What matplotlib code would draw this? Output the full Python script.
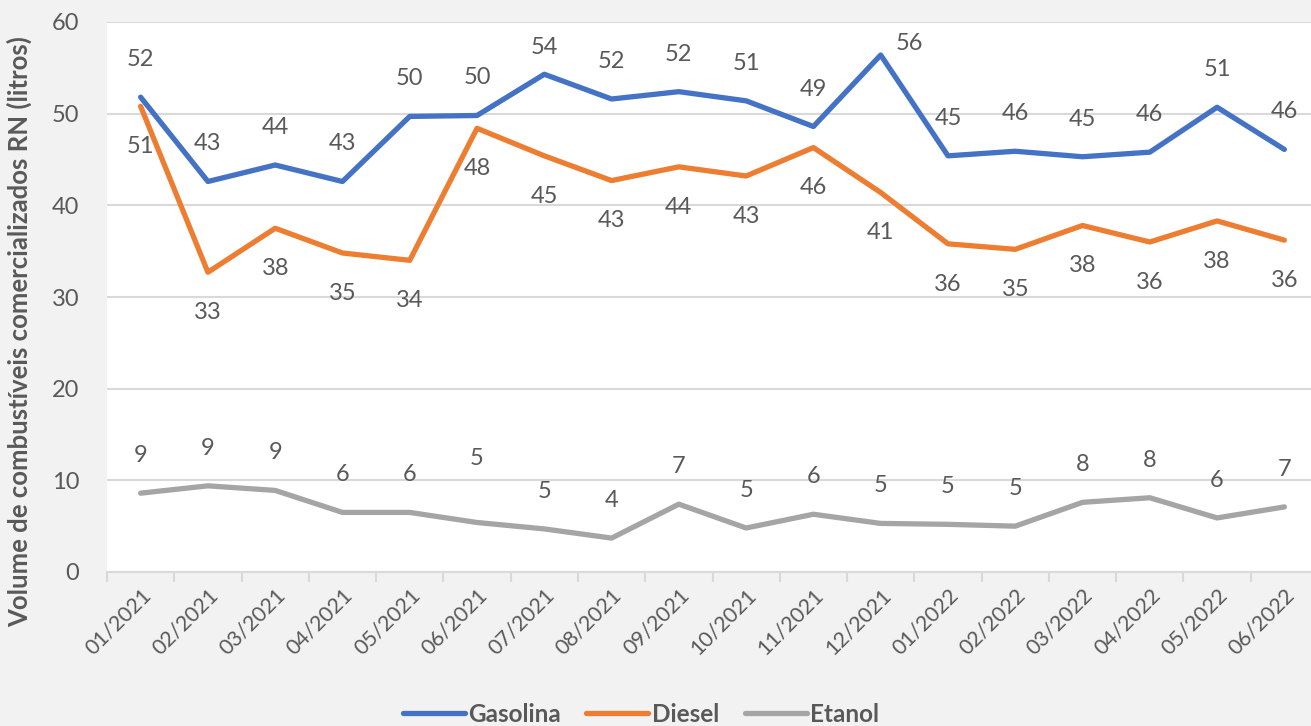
import matplotlib
matplotlib.use("Agg")
import matplotlib.pyplot as plt
import numpy as np
from matplotlib.ticker import FixedLocator, NullFormatter

months = ["01/2021", "02/2021", "03/2021", "04/2021", "05/2021", "06/2021",
          "07/2021", "08/2021", "09/2021", "10/2021", "11/2021", "12/2021",
          "01/2022", "02/2022", "03/2022", "04/2022", "05/2022", "06/2022"]
gasolina = [51.8, 42.6, 44.4, 42.6, 49.7, 49.8, 54.3, 51.6, 52.4, 51.4, 48.6, 56.4,
            45.4, 45.9, 45.3, 45.8, 50.7, 46.1]
diesel = [50.8, 32.7, 37.5, 34.8, 34.0, 48.4, 45.4, 42.7, 44.2, 43.2, 46.3, 41.4,
          35.8, 35.2, 37.8, 36.0, 38.3, 36.2]
etanol = [8.6, 9.4, 8.9, 6.5, 6.5, 5.4, 4.7, 3.7, 7.4, 4.8, 6.3, 5.3,
          5.2, 5.0, 7.6, 8.1, 5.9, 7.1]
series_names = ["Gasolina", "Diesel", "Etanol"]
colors = ["#4472C4", "#ED7D31", "#A5A5A5"]

plt.rcParams['font.family'] = ['Lato', 'DejaVu Sans']
txt = "#595959"

fig = plt.figure(figsize=(13.11, 7.26), dpi=100, facecolor="#F2F2F2")
W, H = 1311, 726
left, right, top, bottom = 107, 1318, 22, 572
ax = fig.add_axes([left / W, 1 - bottom / H, (right - left) / W, (bottom - top) / H])
ax.set_facecolor("white")

x = np.arange(len(months))
lw = 3.8
for vals, name, c in zip([gasolina, diesel, etanol], series_names, colors):
    ax.plot(x, vals, color=c, lw=lw, label=name, solid_capstyle="round",
            solid_joinstyle="round", zorder=3)

lab_kw = dict(textcoords="offset points", ha="center", va="center",
              fontsize=17, color=txt, zorder=4)
for i, v in enumerate(gasolina):
    dx, dy = 0, 27
    if i == 6:
        dy = 19
    if i == 11:
        dx, dy = 21, 8
    ax.annotate(f"{v:.0f}", (x[i], v), xytext=(dx, dy), **lab_kw)
for i, v in enumerate(diesel):
    ax.annotate(f"{v:.0f}", (x[i], v), xytext=(0, -29), **lab_kw)
for i, v in enumerate(etanol):
    dy = 27
    if i == 5:
        dy = 46
    ax.annotate(f"{v:.0f}", (x[i], v), xytext=(0, dy), **lab_kw)

ax.set_xlim(-0.5, len(months) - 0.5)
ax.set_ylim(0, 60)
ax.set_yticks(np.arange(0, 61, 10))
ax.grid(axis="y", color="#D9D9D9", lw=1.5, zorder=0)
ax.set_axisbelow(True)
for s in ["top", "right", "left"]:
    ax.spines[s].set_visible(False)
ax.spines["bottom"].set_color("#D9D9D9")
ax.spines["bottom"].set_linewidth(1.5)

ax.set_xticks(x)
ax.set_xticklabels(months, rotation=45, ha="right", rotation_mode="anchor",
                   fontsize=15.5, color=txt)
ax.tick_params(axis="x", which="major", length=0, pad=9)
ax.xaxis.set_minor_locator(FixedLocator(np.arange(-0.5, len(months), 1.0)))
ax.xaxis.set_minor_formatter(NullFormatter())
ax.tick_params(axis="x", which="minor", length=7, width=1.5, color="#D9D9D9")
ax.tick_params(axis="y", length=0, labelsize=17, labelcolor=txt, pad=20)

ax.set_ylabel("Volume de combustíveis comercializados RN (litros)",
              fontsize=18.5, fontweight="bold", color=txt)
ax.yaxis.set_label_coords((32 - left) / (right - left), (bottom - 332) / (bottom - top))

leg = fig.legend(loc="center", bbox_to_anchor=(641 / W, 1 - 714 / H), ncol=3,
                 frameon=False, handlelength=2.55, columnspacing=1.05,
                 handletextpad=0.15, prop={"size": 17.5, "weight": "bold"})
for t in leg.get_texts():
    t.set_color(txt)

fig.savefig("out.png", dpi=100, facecolor=fig.get_facecolor())
